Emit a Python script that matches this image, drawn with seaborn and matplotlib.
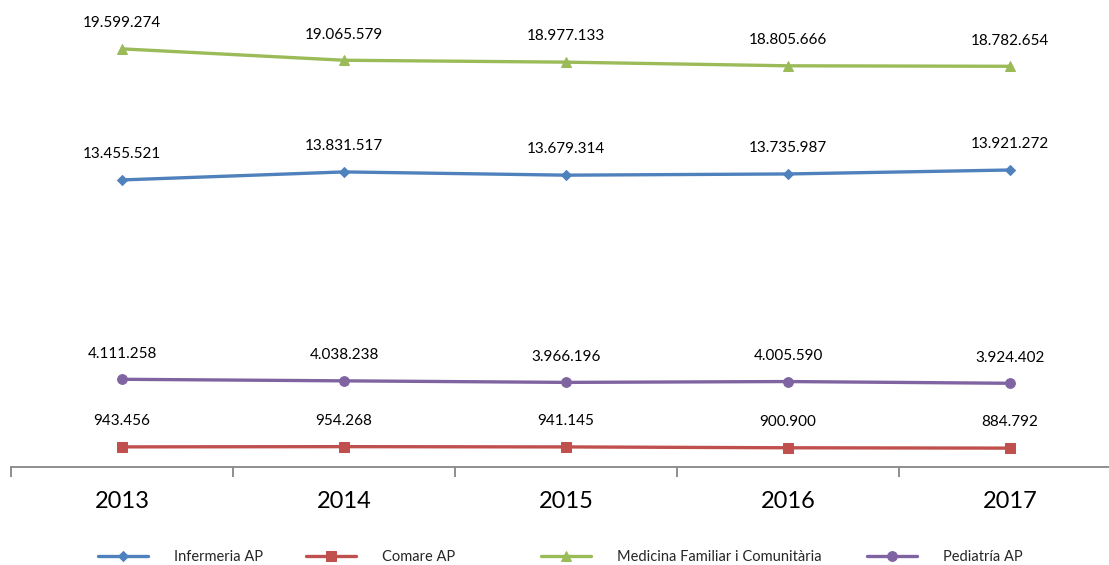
import matplotlib
matplotlib.use('Agg')
import matplotlib.pyplot as plt
import pandas as pd
import seaborn as sns

# Chart data
YEARS = ['2013', '2014', '2015', '2016', '2017']
SERIES = ['Infermeria AP', 'Comare AP', 'Medicina Familiar i Comunitària', 'Pediatría AP']
INFERMERIA = [13455521, 13831517, 13679314, 13735987, 13921272]
COMARE = [943456, 954268, 941145, 900900, 884792]
MEDICINA = [19599274, 19065579, 18977133, 18805666, 18782654]
PEDIATRIA = [4111258, 4038238, 3966196, 4005590, 3924402]

COLORS = ['#4F81BD', '#C0504D', '#9BBB59', '#8064A2']
MARKERS = ['D', 's', '^', 'o']
MSIZES = [5.5, 6.5, 7.5, 7]

rows = []
for name, vals in zip(SERIES, [INFERMERIA, COMARE, MEDICINA, PEDIATRIA]):
    for i, v in enumerate(vals):
        rows.append({'serie': name, 'pos': i, 'value': v})
df = pd.DataFrame(rows)

sns.set_style('white')
plt.rcParams['font.family'] = ['Lato', 'DejaVu Sans']

fig = plt.figure(figsize=(11.09, 5.65), dpi=100)
ax = fig.add_axes([11 / 1109, (565 - 467) / 565, 1 - 11 / 1109, 467 / 565])

handles = []
for name, col, mk, ms in zip(SERIES, COLORS, MARKERS, MSIZES):
    sub = df[df['serie'] == name]
    sns.lineplot(data=sub, x='pos', y='value', color=col, marker=mk, markersize=ms,
                 markeredgecolor=col, linewidth=2.4, ax=ax, label=name, legend=False)
    handles.append(ax.lines[-1])
    for _, r in sub.iterrows():
        ax.annotate(f"{int(r['value']):,}".replace(',', '.'), (r['pos'], r['value']),
                    xytext=(0, 18.5), textcoords='offset points', ha='center', va='center',
                    fontsize=11, color='#000000')

ax.set_xlim(-0.5, (1109 - 122) / 222)
ax.set_ylim(0, 467 / 2.1334e-5)
ax.set_xticks(range(len(YEARS)))
ax.set_xticklabels(YEARS, fontsize=17)
ax.set_xticks([-0.5, 0.5, 1.5, 2.5, 3.5], minor=True)
ax.tick_params(axis='x', which='major', length=0, pad=17, colors='#000000')
ax.tick_params(axis='x', which='minor', bottom=True, length=7, width=1.3,
               color='#868686', direction='out')
ax.set_yticks([])
ax.set_xlabel('')
ax.set_ylabel('')
for s in ['left', 'top', 'right']:
    ax.spines[s].set_visible(False)
ax.spines['bottom'].set_color('#868686')
ax.spines['bottom'].set_linewidth(1.3)

# legend entries placed like the original
leg_x = [105, 313, 548, 874]
for h, name, x in zip(handles, SERIES, leg_x):
    lg = fig.legend([h], [name], loc='center left', bbox_to_anchor=(x / 1109 - 0.006, 1 - 557 / 565),
                    frameon=False, fontsize=10.5, handlelength=3.4, handletextpad=1.8,
                    borderaxespad=0, borderpad=0)

fig.savefig('out.png', dpi=100)
